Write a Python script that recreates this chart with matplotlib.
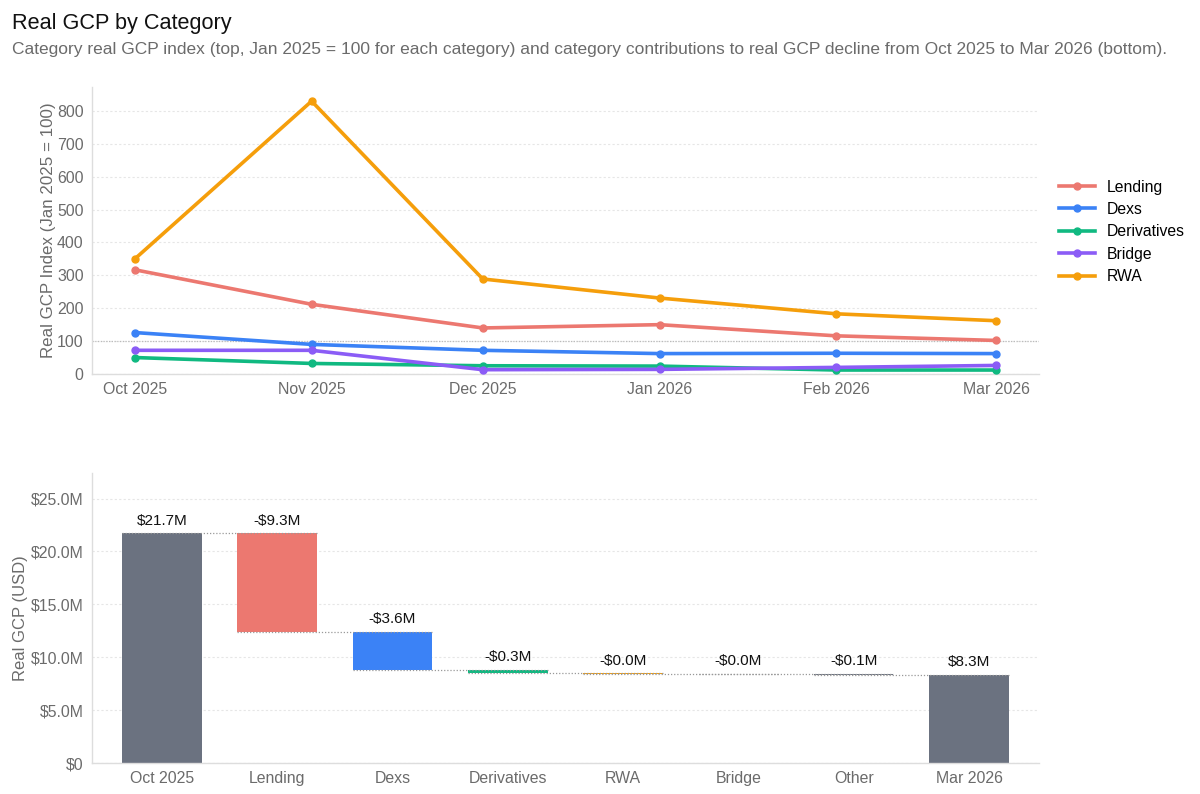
import matplotlib
matplotlib.use('Agg')
import matplotlib.pyplot as plt
import matplotlib.dates as mdates
import numpy as np
import pandas as pd

plt.rcParams['font.family'] = ['Liberation Sans', 'DejaVu Sans']

# top chart: category index (Jan 2025 = 100)
months = pd.to_datetime(['2025-10-01', '2025-11-01', '2025-12-01',
                         '2026-01-01', '2026-02-01', '2026-03-01'])
lending = [317, 212, 140, 150, 116, 102]
dexs = [126, 90, 72, 62, 63, 62]
derivatives = [50, 32, 25, 24, 12, 12]
bridge = [72, 72, 13, 14, 20, 26]
rwa = [350, 830, 289, 231, 183, 162]

# bottom chart: waterfall (USD millions)
wf_labels = ['Oct 2025', 'Lending', 'Dexs', 'Derivatives', 'RWA', 'Bridge', 'Other', 'Mar 2026']
start_value = 21.74
contrib = [-9.31, -3.62, -0.32, -0.04, -0.03, -0.09]

colors = {
    'Lending': '#ec7870',
    'Dexs': '#3b82f6',
    'Derivatives': '#10b981',
    'Bridge': '#8b5cf6',
    'RWA': '#f59e0b',
}
total_color = '#6b7280'
grid_color = '#e6e6e6'
spine_color = '#dddddd'
tick_color = '#6b6b6b'

fig = plt.figure(figsize=(12, 7.94), dpi=100)

fig.text(0.010, 1 - 29 / 794, 'Real GCP by Category', fontsize=15.6, color='#111111', va='baseline')
fig.text(0.010, 1 - 54 / 794,
         'Category real GCP index (top, Jan 2025 = 100 for each category) and category contributions '
         'to real GCP decline from Oct 2025 to Mar 2026 (bottom).',
         fontsize=12.5, color='#6b6b6b', va='baseline')


def style_axes(ax):
    for s in ['top', 'right']:
        ax.spines[s].set_visible(False)
    for s in ['left', 'bottom']:
        ax.spines[s].set_color(spine_color)
        ax.spines[s].set_linewidth(1)
    ax.tick_params(length=0, labelsize=11.4, colors=tick_color, pad=6)
    ax.grid(axis='y', color=grid_color, linestyle=(0, (2, 2)), linewidth=0.8)
    ax.set_axisbelow(True)


# ---- top: line chart ----
ax1 = fig.add_axes([0.0767, 0.529, 0.789, 0.361])
style_axes(ax1)
series = [('Lending', lending), ('Dexs', dexs), ('Derivatives', derivatives),
          ('Bridge', bridge), ('RWA', rwa)]
ax1.axhline(100, color='#bbbbbb', linestyle=(0, (1, 1.2)), linewidth=0.9, zorder=1)
for name, vals in series:
    ax1.plot(months, vals, color=colors[name], linewidth=2.6, marker='o',
             markersize=5, label=name, zorder=3)
pad = pd.Timedelta(days=7.5)
ax1.set_xlim(months[0] - pad, months[-1] + pad)
ax1.set_ylim(0, 872)
ax1.set_yticks(range(0, 900, 100))
ax1.set_xticks(months)
ax1.xaxis.set_major_formatter(mdates.DateFormatter('%b %Y'))
ax1.set_ylabel('Real GCP Index (Jan 2025 = 100)', fontsize=12.2, color=tick_color, labelpad=1)
ax1.legend(loc='upper left', bbox_to_anchor=(1.0146, 0.70), frameon=False, fontsize=11.3,
           handlelength=2.3, handletextpad=0.75, labelspacing=0.47, borderaxespad=0)

# ---- bottom: waterfall ----
ax2 = fig.add_axes([0.0767, 0.039, 0.789, 0.365])
style_axes(ax2)
x = np.arange(len(wf_labels))
width = 0.69
levels = [start_value]
for c in contrib:
    levels.append(levels[-1] + c)
end_value = levels[-1]

bar_colors = [colors['Lending'], colors['Dexs'], colors['Derivatives'],
              colors['RWA'], colors['Bridge'], total_color]

ax2.bar(x[0], start_value, width=width, color=total_color, zorder=2)
for i, c in enumerate(contrib):
    top = levels[i]
    bottom = levels[i + 1]
    ax2.bar(x[i + 1], top - bottom, bottom=bottom, width=width,
            color=bar_colors[i], zorder=2)
ax2.bar(x[-1], end_value, width=width, color=total_color, zorder=2)

# connectors
for i in range(len(levels)):
    ax2.hlines(levels[i], x[i] - width / 2, x[i + 1] + width / 2, color='#999999',
               linestyle=(0, (1, 1.5)), linewidth=0.9, zorder=3)

# value labels
texts = ['$%.1fM' % start_value] + ['-$%.1fM' % abs(c) for c in contrib] + ['$%.1fM' % end_value]
tops = [start_value] + levels[:-1] + [end_value]
for xi, t, yv in zip(x, texts, tops):
    ax2.annotate(t, (xi, yv), xytext=(0, 4), textcoords='offset points',
                 ha='center', va='bottom', fontsize=11, color='#111111')

ax2.set_xlim(-0.606, len(wf_labels) - 1 + 0.606)
ax2.set_ylim(0, 27.4)
ax2.set_xticks(x)
ax2.set_xticklabels(wf_labels)
ax2.set_yticks([0, 5, 10, 15, 20, 25])
ax2.set_yticklabels(['$0', '$5.0M', '$10.0M', '$15.0M', '$20.0M', '$25.0M'])
ax2.set_ylabel('Real GCP (USD)', fontsize=12, color=tick_color, labelpad=2)

fig.savefig('out.png', dpi=100, facecolor='white')
